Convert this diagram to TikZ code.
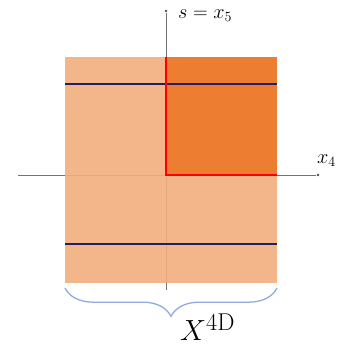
\documentclass[tikz,border=0pt]{standalone}
\usepackage{amsmath}
\usetikzlibrary{decorations.pathreplacing,positioning}

\definecolor{slablight}{HTML}{F2AE7E}
\definecolor{slabdark}{HTML}{ED7D31}
\definecolor{wallblue}{HTML}{1F2060}
\definecolor{bracecol}{HTML}{8FAADC}

\begin{document}
\begin{tikzpicture}[
  x=0.03cm, y=-0.03cm,
  axis/.style={
    draw=black!55,
    line width=0.6pt
  },
  axisdot/.style={
    circle,
    fill=black!70,
    inner sep=0pt,
    minimum size=2.2pt
  },
  wall/.style={
    line width=2.4pt,
    wallblue
  },
  edge/.style={
    line width=2.4pt,
    red
  },
  xbrace/.style={
    decorate,
    decoration={brace,mirror,amplitude=0.85cm},
    line width=1.1pt,
    bracecol
  }
]

\useasboundingbox (0,0) rectangle (341,347);

% Axes
\coordinate (hleft) at (18,175);
\coordinate (vbot) at (166,290);
\node[axisdot] (hend) at (318,175) {};
\node[axisdot] (vend) at (166,11) {};
\draw[axis] (hleft) -- (hend);
\draw[axis] (vbot) -- (vend);

% Slab and quadrant
\fill[slablight, fill opacity=0.9] (65,57) rectangle (277,283);
\fill[slabdark] (166,57) rectangle (277,175);

\node[font=\LARGE, anchor=west] (slabel) at (174,16) {$s = x_5$};
\node[font=\LARGE, anchor=west] (xlabel) at (313,161) {$x_4$};

% Horizontal walls
\coordinate (wtl) at (65,84);
\coordinate (wtr) at (277,84);
\coordinate (wbl) at (65,244);
\coordinate (wbr) at (277,244);
\draw[wall] (wtl) -- (wtr);
\draw[wall] (wbl) -- (wbr);

% Quadrant boundary
\coordinate (qtop) at (166,57);
\coordinate (qcorner) at (166,175);
\coordinate (qright) at (277,175);
\draw[edge, line join=miter] (qtop) -- (qcorner) -- (qright);

% Brace below the slab
\coordinate (bl) at (65,288);
\coordinate (br) at (277,288);
\draw[xbrace] (bl) -- (br);

\node[font=\Huge, anchor=south west, inner sep=0pt] (xfour) at (180,341)
  {$X^{\mathrm{4D}}$};

\end{tikzpicture}
\end{document}
